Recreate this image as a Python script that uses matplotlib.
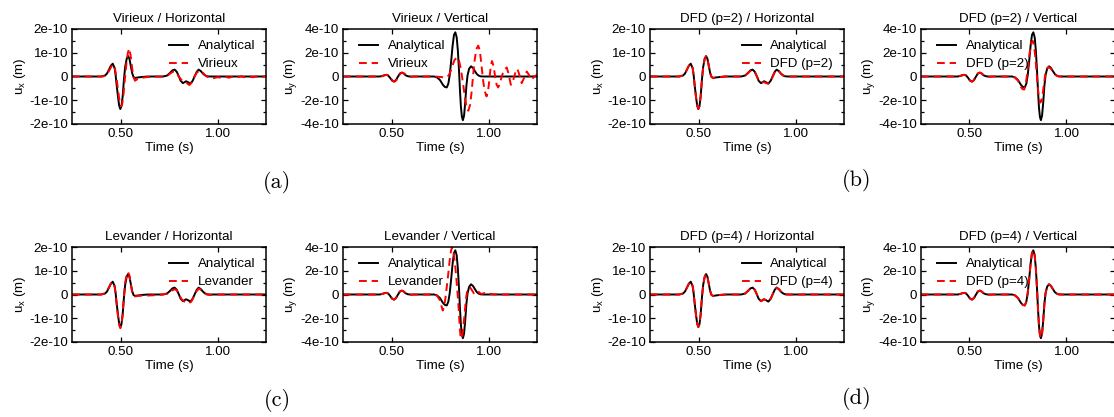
import numpy as np
import matplotlib
matplotlib.use("Agg")
import matplotlib.pyplot as plt
from matplotlib.ticker import FixedLocator, MultipleLocator

plt.rcParams['font.family'] = ['Liberation Sans', 'DejaVu Sans']
plt.rcParams['mathtext.fontset'] = 'custom'
plt.rcParams['mathtext.rm'] = 'Liberation Sans'
plt.rcParams['mathtext.it'] = 'Liberation Sans:italic'
plt.rcParams['axes.unicode_minus'] = False

# ---------------- data (values in units of 1e-10 m) ----------------
# analytical horizontal component
ana_h_t = [0.25, 0.40, 0.42, 0.43, 0.44, 0.45, 0.46, 0.47, 0.475, 0.48, 0.487, 0.493, 0.499,
           0.505, 0.511, 0.518, 0.524, 0.532, 0.539, 0.546, 0.553, 0.56, 0.567, 0.575, 0.59,
           0.61, 0.64, 0.72, 0.74, 0.755, 0.768, 0.779, 0.79, 0.80, 0.81, 0.822, 0.838, 0.848,
           0.86, 0.872, 0.883, 0.893, 0.903, 0.915, 0.925, 0.935, 0.946, 0.96, 1.25]
ana_h_v = [0, 0, 0.04, 0.12, 0.28, 0.45, 0.54, 0.35, 0.05, -0.35, -0.85, -1.22, -1.37,
           -1.25, -0.85, -0.1, 0.4, 0.75, 0.86, 0.75, 0.45, 0.15, -0.02, -0.06, -0.04,
           -0.02, 0, 0, 0.04, 0.15, 0.26, 0.29, 0.2, 0.02, -0.18, -0.28, -0.2, -0.24,
           -0.30, -0.18, 0.02, 0.2, 0.29, 0.22, 0.12, 0.05, 0.01, 0, 0]

# analytical vertical component
ana_v_t = [0.25, 0.44, 0.455, 0.465, 0.473, 0.483, 0.493, 0.503, 0.513, 0.523, 0.533, 0.543,
           0.553, 0.563, 0.573, 0.585, 0.60, 0.62, 0.72, 0.735, 0.75, 0.765, 0.775, 0.785,
           0.793, 0.80, 0.807, 0.815, 0.822, 0.829, 0.836, 0.842, 0.848, 0.853, 0.858, 0.863,
           0.868, 0.874, 0.88, 0.886, 0.892, 0.90, 0.91, 0.92, 0.93, 0.94, 0.95, 0.96, 0.975, 1.25]
ana_v_v = [0, 0, 0.06, 0.12, 0.14, 0.08, -0.12, -0.35, -0.43, -0.3, -0.02, 0.25,
           0.33, 0.25, 0.1, 0.02, -0.01, 0, 0, -0.08, -0.3, -0.7, -0.88, -0.92,
           -0.6, 0.1, 1.2, 2.6, 3.5, 3.72, 3.3, 2.2, 0.5, -1.2, -2.6, -3.4,
           -3.68, -3.3, -2.2, -0.8, 0.1, 0.65, 0.86, 0.72, 0.45, 0.2, 0.07, 0.01, 0, 0]

# Virieux
vir_h_t = [0.25, 0.41, 0.43, 0.445, 0.455, 0.463, 0.472, 0.48, 0.488, 0.495, 0.502, 0.508,
           0.515, 0.522, 0.53, 0.538, 0.545, 0.552, 0.56, 0.568, 0.575, 0.585, 0.60, 0.63,
           0.66, 0.72, 0.745, 0.76, 0.775, 0.785, 0.80, 0.815, 0.83, 0.845, 0.855, 0.868,
           0.88, 0.895, 0.91, 0.925, 0.94, 0.955, 0.97, 0.985, 1.0, 1.02, 1.04, 1.06, 1.08,
           1.10, 1.12, 1.14, 1.16, 1.18, 1.20, 1.22, 1.25]
vir_h_v = [0, 0, 0.08, 0.3, 0.45, 0.5, 0.3, -0.1, -0.6, -1.05, -1.25, -1.2,
           -0.8, -0.15, 0.5, 1.0, 1.18, 0.9, 0.35, -0.05, -0.18, -0.12, -0.07, -0.03,
           -0.01, 0, 0.05, 0.15, 0.22, 0.2, 0.0, -0.15, -0.2, -0.3, -0.36, -0.25,
           -0.02, 0.18, 0.25, 0.15, 0.03, -0.05, -0.08, -0.06, -0.03, -0.05, -0.01, -0.05, 0.0,
           -0.04, 0.01, -0.03, 0.01, -0.03, 0.0, -0.02, 0]

vir_v_t = [0.25, 0.445, 0.46, 0.468, 0.476, 0.486, 0.496, 0.506, 0.516, 0.526, 0.536, 0.546,
           0.556, 0.566, 0.576, 0.588, 0.603, 0.62, 0.72, 0.76, 0.775, 0.785, 0.795, 0.805,
           0.815, 0.825, 0.839, 0.848, 0.858, 0.868, 0.878, 0.887, 0.896, 0.905, 0.913, 0.92,
           0.928, 0.937, 0.947, 0.955, 0.963, 0.971, 0.98, 0.99, 0.998, 1.005, 1.011, 1.018,
           1.026, 1.034, 1.042, 1.05, 1.058, 1.068, 1.08, 1.094, 1.104, 1.115, 1.125, 1.138,
           1.149, 1.16, 1.171, 1.184, 1.197, 1.21, 1.222, 1.236, 1.25]
vir_v_v = [0, 0, 0.06, 0.12, 0.14, 0.08, -0.12, -0.35, -0.43, -0.3, -0.02, 0.25,
           0.33, 0.25, 0.1, 0.02, -0.01, 0, 0, -0.05, -0.1, -0.05, 0.1, 0.45,
           0.95, 1.4, 1.62, 1.35, 0.6, -0.5, -1.7, -2.6, -2.88, -2.4, -1.3, 0.0,
           1.3, 2.3, 2.6, 2.2, 1.1, -0.2, -1.2, -1.68, -1.2, -0.2, 0.8, 1.3,
           0.9, 0.0, -0.7, -0.92, -0.6, 0.0, 0.55, 0.76, 0.2, -0.7, -0.45, 0.3,
           0.64, 0.1, -0.56, -0.1, 0.42, 0.1, -0.28, 0.0, 0.14]

# Levander
lev_h_t = [0.25, 0.40, 0.42, 0.43, 0.44, 0.45, 0.46, 0.47, 0.475, 0.48, 0.487, 0.493, 0.499,
           0.505, 0.511, 0.518, 0.524, 0.532, 0.539, 0.546, 0.553, 0.56, 0.567, 0.575, 0.60,
           0.65, 0.70, 0.74, 0.76, 0.78, 0.79, 0.80, 0.815, 0.83, 0.85, 0.865, 0.88, 0.893,
           0.905, 0.918, 0.93, 0.945, 0.96, 1.0, 1.25]
lev_h_v = [0, 0, 0.05, 0.13, 0.3, 0.46, 0.52, 0.32, 0.0, -0.4, -0.9, -1.28, -1.42,
           -1.28, -0.85, -0.05, 0.5, 0.85, 0.95, 0.8, 0.45, 0.1, -0.06, -0.08, -0.05,
           -0.04, -0.02, 0.04, 0.15, 0.22, 0.18, 0.02, -0.2, -0.3, -0.38, -0.3, -0.05, 0.15,
           0.25, 0.18, 0.08, 0.0, -0.02, 0, 0]

lev_v_t = [0.25, 0.44, 0.455, 0.465, 0.473, 0.483, 0.493, 0.503, 0.513, 0.523, 0.533, 0.543,
           0.553, 0.563, 0.573, 0.585, 0.60, 0.62, 0.72, 0.735, 0.75, 0.758, 0.764, 0.77,
           0.778, 0.786, 0.793, 0.80, 0.807, 0.813, 0.82, 0.828, 0.835, 0.841, 0.847, 0.852,
           0.857, 0.863, 0.87, 0.877, 0.883, 0.889, 0.897, 0.905, 0.915, 0.925, 0.935, 0.945,
           0.955, 0.965, 0.98, 0.995, 1.01, 1.03, 1.05, 1.07, 1.25]
lev_v_v = [0, 0, 0.06, 0.12, 0.14, 0.08, -0.12, -0.35, -0.43, -0.3, -0.02, 0.25,
           0.33, 0.25, 0.1, 0.02, -0.01, 0, 0, -0.1, -0.5, -1.0, -1.35, -1.1,
           -0.3, 0.8, 1.8, 2.9, 3.7, 4.0, 3.6, 2.5, 1.2, 0.0, -1.4, -2.8,
           -3.72, -3.6, -2.8, -1.6, -0.5, 0.2, 0.55, 0.6, 0.35, 0.1, 0.25, 0.3,
           0.12, 0.05, 0.12, 0.0, 0.06, 0.0, 0.04, 0.0, 0]

# DFD (p=2)
dfd2_h_t = list(ana_h_t)
dfd2_h_v = [0, 0, 0.04, 0.12, 0.28, 0.45, 0.53, 0.35, 0.05, -0.35, -0.85, -1.22, -1.36,
            -1.25, -0.85, -0.1, 0.4, 0.75, 0.85, 0.75, 0.45, 0.15, -0.02, -0.06, -0.04,
            -0.02, 0, 0, 0.04, 0.14, 0.24, 0.27, 0.2, 0.03, -0.15, -0.25, -0.24, -0.28,
            -0.30, -0.2, 0.0, 0.18, 0.27, 0.22, 0.12, 0.05, 0.01, 0, 0]

dfd2_v_t = [0.25, 0.44, 0.455, 0.465, 0.473, 0.483, 0.493, 0.503, 0.513, 0.523, 0.533, 0.543,
            0.553, 0.563, 0.573, 0.585, 0.60, 0.62, 0.72, 0.735, 0.75, 0.762, 0.772, 0.782,
            0.79, 0.797, 0.804, 0.812, 0.819, 0.826, 0.833, 0.84, 0.846, 0.852, 0.858, 0.864,
            0.87, 0.877, 0.884, 0.891, 0.90, 0.909, 0.92, 0.93, 0.94, 0.95, 0.96, 0.975, 1.25]
dfd2_v_v = [0, 0, 0.06, 0.12, 0.14, 0.08, -0.12, -0.35, -0.43, -0.3, -0.02, 0.25,
            0.33, 0.25, 0.1, 0.02, -0.01, 0, 0, -0.1, -0.35, -0.8, -1.05, -1.1,
            -0.6, 0.2, 1.2, 2.2, 2.85, 3.0, 2.6, 1.5, 0.3, -0.9, -1.8, -2.2,
            -2.1, -1.5, -0.6, 0.2, 0.7, 0.8, 0.65, 0.4, 0.18, 0.06, 0.01, 0, 0]

# DFD (p=4) - overlaps the analytical solution
dfd4_h_t = list(ana_h_t)
dfd4_h_v = list(ana_h_v)
dfd4_v_t = list(ana_v_t)
dfd4_v_v = list(ana_v_v)

# ---------------- figure ----------------
fig = plt.figure(figsize=(11.14, 4.17), dpi=100)
W, H = 1114.0, 417.0
lefts = [72, 343, 650, 921]
tops = [29, 247]
aw, ah = 194, 95

panels = [
    # (row, col, title, comp, ana_t, ana_v, red_t, red_v, label)
    (0, 0, "Virieux / Horizontal", "x", ana_h_t, ana_h_v, vir_h_t, vir_h_v, "Virieux"),
    (0, 1, "Virieux / Vertical", "y", ana_v_t, ana_v_v, vir_v_t, vir_v_v, "Virieux"),
    (0, 2, "DFD (p=2) / Horizontal", "x", ana_h_t, ana_h_v, dfd2_h_t, dfd2_h_v, "DFD (p=2)"),
    (0, 3, "DFD (p=2) / Vertical", "y", ana_v_t, ana_v_v, dfd2_v_t, dfd2_v_v, "DFD (p=2)"),
    (1, 0, "Levander / Horizontal", "x", ana_h_t, ana_h_v, lev_h_t, lev_h_v, "Levander"),
    (1, 1, "Levander / Vertical", "y", ana_v_t, ana_v_v, lev_v_t, lev_v_v, "Levander"),
    (1, 2, "DFD (p=4) / Horizontal", "x", ana_h_t, ana_h_v, dfd4_h_t, dfd4_h_v, "DFD (p=4)"),
    (1, 3, "DFD (p=4) / Vertical", "y", ana_v_t, ana_v_v, dfd4_v_t, dfd4_v_v, "DFD (p=4)"),
]

FS = 9.6
for row, col, title, comp, at, av, rt, rv, lab in panels:
    l = lefts[col] / W
    b = 1 - (tops[row] + ah) / H
    ax = fig.add_axes([l, b, aw / W, ah / H])
    ax.plot(at, np.array(av) * 1e-10, color="black", lw=1.4, label="Analytical")
    ax.plot(rt, np.array(rv) * 1e-10, color="#ff0000", lw=1.4, dashes=(4, 2.5), label=lab)
    ax.set_xlim(0.25, 1.25)
    if comp == "x":
        lim = 2e-10
        ticks = [-2e-10, -1e-10, 0, 1e-10, 2e-10]
        labels = ["-2e-10", "-1e-10", "0", "1e-10", "2e-10"]
        minor = 0.5e-10
    else:
        lim = 4e-10
        ticks = [-4e-10, -2e-10, 0, 2e-10, 4e-10]
        labels = ["-4e-10", "-2e-10", "0", "2e-10", "4e-10"]
        minor = 1e-10
    ax.set_ylim(-lim, lim)
    ax.yaxis.set_major_locator(FixedLocator(ticks))
    ax.set_yticklabels(labels)
    ax.yaxis.set_minor_locator(MultipleLocator(minor))
    ax.set_xticks([0.5, 1.0])
    ax.set_xticklabels(["0.50", "1.00"])
    ax.tick_params(which="both", direction="in", top=True, right=True, labelsize=FS, width=0.9)
    ax.tick_params(which="major", length=3.5, pad=3)
    ax.tick_params(which="minor", length=2)
    for s in ax.spines.values():
        s.set_linewidth(1.1)
    ax.set_title(title, fontsize=FS, pad=5)
    ax.set_xlabel("Time (s)", fontsize=FS, labelpad=1.5)
    ax.set_ylabel(r"u$_{\mathrm{%s}}$ (m)" % comp, fontsize=FS, labelpad=1)
    if comp == "x":
        loc, anchor = "upper right", (1 - 11 / aw, 1 - 11 / ah)
    else:
        loc, anchor = "upper left", (16 / aw, 1 - 11 / ah)
    ax.legend(loc=loc, bbox_to_anchor=anchor, frameon=False, fontsize=FS,
              handlelength=1.45, handletextpad=0.7, labelspacing=0.43,
              borderaxespad=0, borderpad=0)

for txt, x, y in [("(a)", 277, 183), ("(b)", 857, 181), ("(c)", 277, 400), ("(d)", 857, 399)]:
    fig.text(x / W, 1 - y / H, txt, family="cmr10", fontsize=16, ha="center", va="center")

fig.savefig("out.png", dpi=100)
